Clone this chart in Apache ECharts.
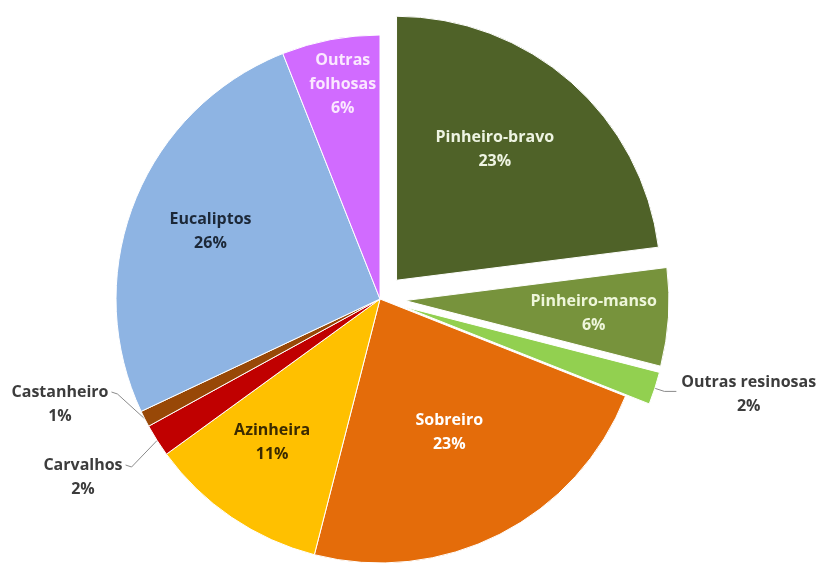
<!DOCTYPE html>
<html><head><meta charset="utf-8">
<script src="https://cdn.jsdelivr.net/npm/echarts@6/dist/echarts.min.js"></script>
<style>html,body{margin:0;padding:0;background:#fff}#c{width:827px;height:565px}</style>
</head><body><div id="c"></div>
<script>
const categories = ['Pinheiro-bravo','Pinheiro-manso','Outras resinosas','Sobreiro','Azinheira','Carvalhos','Castanheiro','Eucaliptos','Outras folhosas'];
const values = [23, 6, 2, 23, 11, 2, 1, 26, 6];
const colors = ['#4F6228','#77933C','#92D050','#E46C0A','#FFC000','#C00000','#984807','#8EB4E3','#D16BFF'];
const exploded = [true, true, true, false, false, false, false, false, false];
const labelNames = ['Pinheiro-bravo','Pinheiro-manso','Outras resinosas','Sobreiro','Azinheira','Carvalhos','Castanheiro','Eucaliptos','Outras\nfolhosas'];
const labelColors = ['#EEF4E2','#EEF6DA','#3c3c3c','#ffffff','#3a2a00','#3c3c3c','#3c3c3c','#1c2838','#FBE8FF'];
const outside = [false,false,true,false,false,true,true,false,false];
// label nudges for inside labels (layout only)
const labelShift = [[9,-30],[54,4],[0,0],[8,13],[-32,32],[0,0],[0,0],[-44,-18],[-12,-82]];
// absolute label block centres for outside labels on the left (layout only)
const outsidePos = {5: [83, 477], 6: [60, 404]};

const font = {fontFamily: 'Open Sans', fontWeight: 'bold', fontSize: 16, lineHeight: 24};

const chart = echarts.init(document.getElementById('c'));
const data = categories.map((c,i)=>{
  const item = {
    name: c, value: values[i], selected: exploded[i],
    itemStyle: {color: colors[i]},
    label: {
      position: outside[i] ? 'outside' : 'inside',
      color: labelColors[i],
      overflow: 'none',
      formatter: labelNames[i] + '\n' + values[i] + '%'
    },
    labelLine: {show: outside[i]}
  };
  if (i === 2) {
    item.label.formatter = '{a|' + labelNames[i] + '}\n{b|' + values[i] + '%}';
    item.label.padding = [6, 0, 0, 0];
    item.label.rich = {
      a: Object.assign({color: labelColors[i]}, font),
      b: Object.assign({color: labelColors[i], width: 134, align: 'center'}, font)
    };
    item.labelLine = {show: true, length: 10, length2: 12};
  }
  return item;
});
chart.setOption({
  animation: false,
  series: [{
    type: 'pie',
    center: [380, 299],
    radius: [0, 264],
    startAngle: 90,
    clockwise: true,
    selectedMode: 'multiple',
    selectedOffset: 25,
    itemStyle: {borderColor: '#ffffff', borderWidth: 1},
    label: Object.assign({align: 'center'}, font),
    labelLine: {length: 6, length2: 4, lineStyle: {color: '#8a8a8a', width: 1}},
    labelLayout: function(p){
      const i = p.dataIndex;
      const op = outsidePos[i];
      if (op) {
        const w = p.labelRect.width, h = p.labelRect.height;
        const x = op[0], y = op[1];
        const firstLineY = y - h/2 + 12;
        const p0 = p.labelLinePoints ? p.labelLinePoints[0] : [x, y];
        const end = [x + w/2 + 3, firstLineY];
        const elbow = [end[0] + 6, end[1] + 2];
        return {x: x, y: y, align: 'center', verticalAlign: 'middle', labelLinePoints: [p0, elbow, end]};
      }
      const s = labelShift[i];
      return {dx: s[0], dy: s[1]};
    },
    emphasis: {disabled: true},
    data: data
  }]
});
</script></body></html>
